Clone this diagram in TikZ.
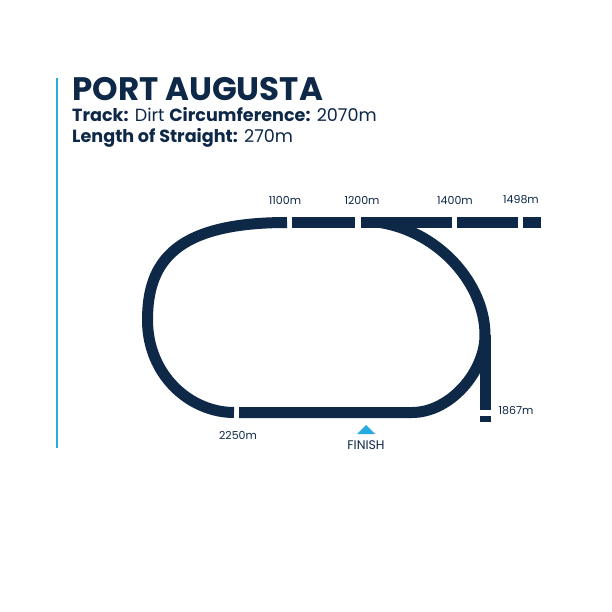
\documentclass[tikz,border=0pt]{standalone}
\usepackage{fontspec}
\setmainfont{Poppins}
\usepackage{tikz}
\usetikzlibrary{positioning}
\definecolor{navy}{HTML}{0E2848}
\definecolor{skyblue}{HTML}{29A9E1}

\begin{document}
\begin{tikzpicture}[x=1pt, y=-1pt,
      track/.style={draw=navy, line width=11pt},
      dist/.style={text=navy, inner sep=0pt, font=\fontsize{11}{13}\selectfont},
      heading/.style={text=navy, inner sep=0pt, anchor=base west}]

      \useasboundingbox (0,0) rectangle (612,612);
      \fill[white] (0,0) rectangle (612,612);

      % side bar
      \draw[skyblue, line width=2pt] (57,78) -- (57,448);

      % heading
      \node[heading, font=\fontsize{32.5}{38}\selectfont\bfseries] (title) at (72,101) {PORT AUGUSTA};
      \node[heading, font=\fontsize{17.6}{21}\selectfont] (trackinfo) at (72,122)
            {\textbf{Track:} Dirt \textbf{Circumference:} 2070m};
      \node[heading, font=\fontsize{17.6}{21}\selectfont] (straight) at (72,143)
            {\textbf{Length of Straight:} 270m};

      % back straight
      \foreach \a/\b in {292/355, 361/452, 457/518, 523/541}
            \draw[track] (\a,222.5) -- (\b,222.5);

      % turn out of the back straight
      \draw[track] (287,222.5) .. controls (175,222.5) and (147.5,262) .. (147.5,320)
                                  .. controls (147.5,375) and (190,412.5) .. (234,412.5);

      % home straight and home turn
      \draw[track] (239,412.5) -- (412,412.5) .. controls (450,412.5) and (485,372) .. (485,335)
                                  .. controls (485,285) and (440,232) .. (380,222.5);

      % chute
      \draw[track] (485,335) -- (485,410);
      \draw[track] (485,416) -- (485,422);

      % distances
      \node[dist] (m1100) at (285,200) {1100m};
      \node[dist] (m1200) at (362,200) {1200m};
      \node[dist] (m1400) at (455,200) {1400m};
      \node[dist] (m1498) at (521,200) {1498m};
      \node[dist] (m1867) at (516,411) {1867m};
      \node[dist] (m2250) at (238,435) {2250m};

      % finish post
      \fill[skyblue] (357,434) -- (366,425) -- (375,434) -- cycle;
      \node[dist, font=\fontsize{12.5}{15}\selectfont] (finish) at (366,445) {FINISH};
\end{tikzpicture}
\end{document}
